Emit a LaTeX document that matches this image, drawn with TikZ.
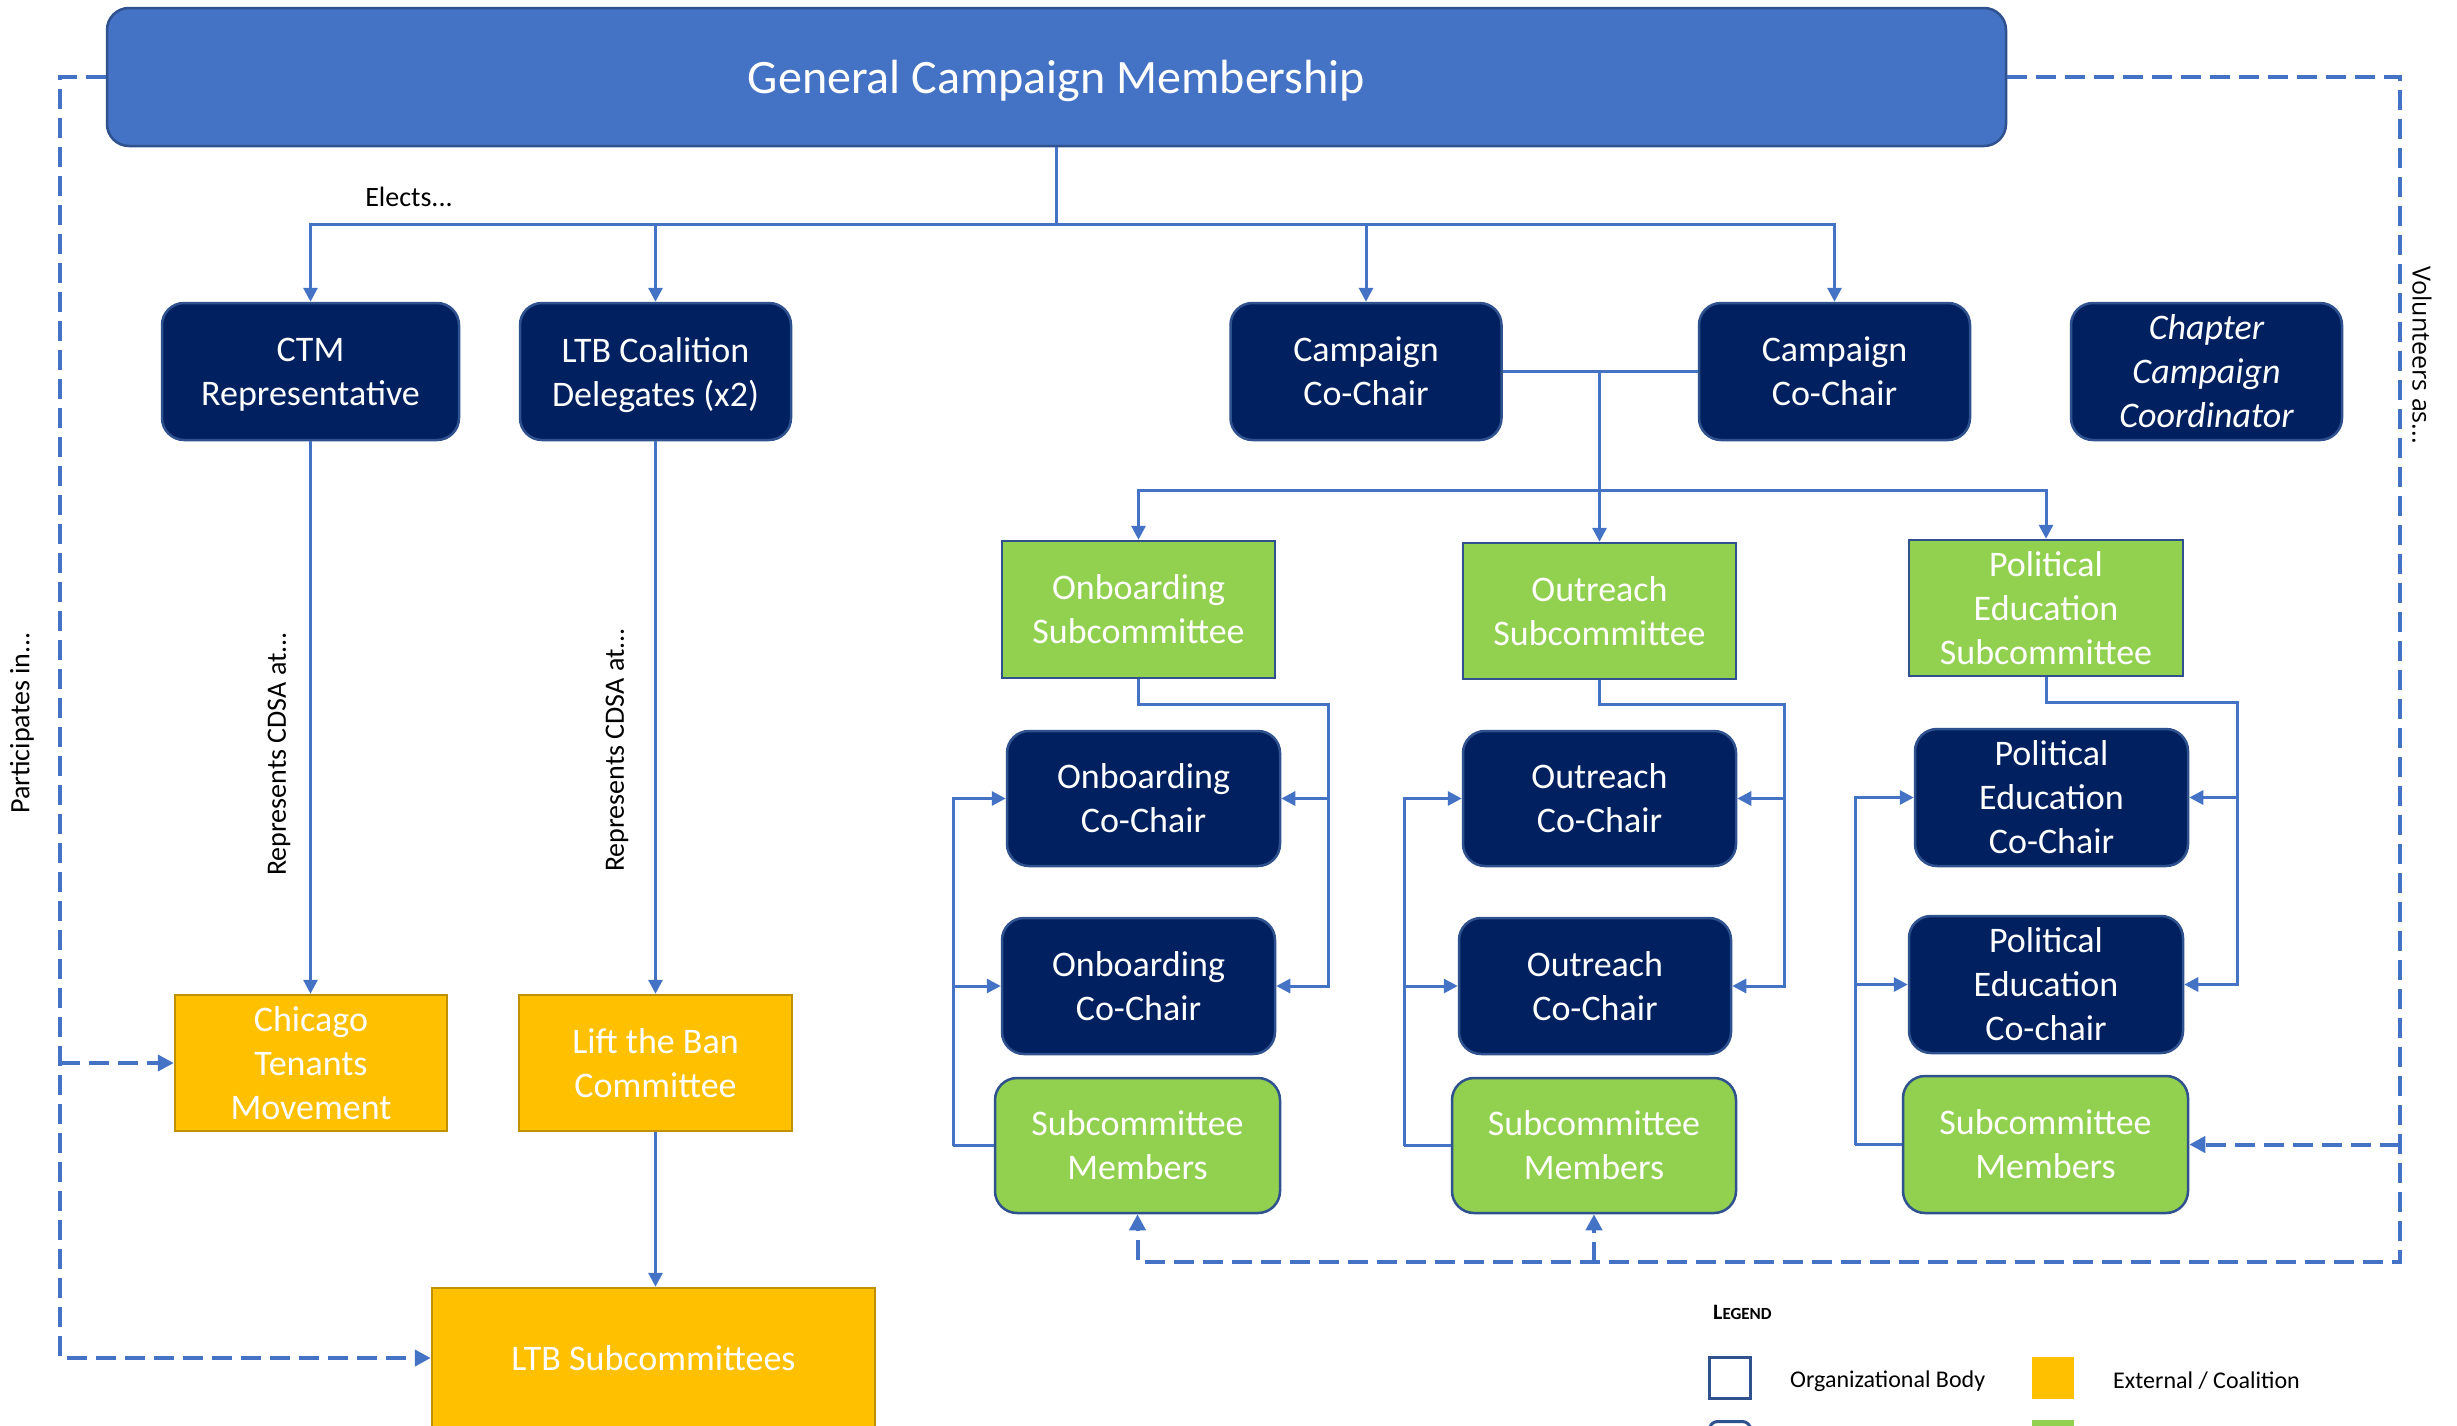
\documentclass[tikz,border=0pt]{standalone}
\usepackage{fontspec}
\setmainfont{Carlito}
\newfontfamily\volfont{Open Sans}
\usetikzlibrary{arrows.meta}
\definecolor{lineblue}{HTML}{4472C4}
\definecolor{bordblue}{HTML}{2F528F}
\definecolor{navy}{HTML}{002060}
\definecolor{grn}{HTML}{92D050}
\definecolor{ylw}{HTML}{FFC000}
\definecolor{ylwb}{HTML}{BF9000}
\newcommand\nodepth[1]{\raisebox{0pt}[\height][0pt]{#1}}
\begin{document}
\begin{tikzpicture}[x=1pt,y=-1pt,
  base/.style={inner sep=0pt, text=white, align=center, font=\fontsize{36}{44}\selectfont, line width=2.5pt},
  navybox/.style={base, draw=bordblue, fill=navy, rounded corners=22pt},
  greenhead/.style={base, draw=bordblue, fill=grn},
  greenmem/.style={base, draw=bordblue, fill=grn, rounded corners=22pt},
  ylwbox/.style={base, draw=ylwb, fill=ylw},
  conn/.style={draw=lineblue, line width=3pt},
  arr/.style={conn, -{Triangle[length=14pt,width=14pt]}},
  dsh/.style={draw=lineblue, line width=4pt, dash pattern=on 20pt off 9pt},
  dsharr/.style={dsh, -{Triangle[length=16pt,width=16pt]}},
  lbl/.style={font=\fontsize{28}{34}\selectfont, text=black, inner sep=0pt},
  sz/.style 2 args={minimum width=#1pt, minimum height=#2pt}
]
\useasboundingbox (0,0) rectangle (2457,1425);
\clip (0,0) rectangle (2457,1425);
\fill[white] (0,0) rectangle (2457,1425);

% top
\node[base, draw=bordblue, fill=lineblue, rounded corners=22pt, sz={1899}{138}, font=\fontsize{48}{56}\selectfont] (gcm) at (1056.5,77) {\nodepth{General Campaign Membership}};

% second row
\node[navybox, sz={297}{137}] (ctmrep) at (310.5,371.5) {CTM\\\nodepth{Representative}};
\node[navybox, sz={271}{137}] (ltbdel) at (655.5,371.5) {LTB Coalition\\\nodepth{Delegates (x2)}};
\node[navybox, sz={271}{137}] (cc1) at (1366,371.5) {Campaign\\Co-Chair};
\node[navybox, sz={271}{137}] (cc2) at (1834.5,371.5) {Campaign\\Co-Chair};
\node[navybox, sz={271}{137}, font=\fontsize{36}{44}\selectfont\itshape] (ccc) at (2206.5,371.5) {Chapter\\Campaign\\Coordinator};

% subcommittees
\node[greenhead, sz={273}{137}] (onbsub) at (1138.5,609.5) {Onboarding\\Subcommittee};
\node[greenhead, sz={273}{136}] (outsub) at (1599.5,611) {Outreach\\Subcommittee};
\node[greenhead, sz={274}{136}] (pesub) at (2046,608) {Political\\Education\\Subcommittee};

\node[navybox, sz={273}{135}] (oc1) at (1143.5,798.5) {Onboarding\\Co-Chair};
\node[navybox, sz={273}{136}] (oc2) at (1138.5,986) {Onboarding\\Co-Chair};
\node[greenmem, sz={285}{135}] (om) at (1137.5,1145.5) {Subcommittee\\Members};

\node[navybox, sz={273}{135}] (rc1) at (1599.5,798.5) {Outreach\\Co-Chair};
\node[navybox, sz={272}{136}] (rc2) at (1595,986) {Outreach\\Co-Chair};
\node[greenmem, sz={284}{135}] (rm) at (1594,1145.5) {Subcommittee\\Members};

\node[navybox, sz={273}{137}] (pc1) at (2051.5,797.5) {Political\\Education\\Co-Chair};
\node[navybox, sz={274}{137}] (pc2) at (2046,984.5) {Political\\Education\\Co-chair};
\node[greenmem, sz={285}{137}] (pm) at (2045.5,1144.5) {Subcommittee\\Members};

% external
\node[ylwbox, sz={272}{136}] (ctmv) at (311,1063) {Chicago\\Tenants\\Movement};
\node[ylwbox, sz={273}{136}] (ltbc) at (655.5,1063) {Lift the Ban\\Committee};
\node[ylwbox, sz={443}{140}] (ltbs) at (653.5,1358) {LTB Subcommittees};

% election bus
\coordinate (bus) at (1056.5,224);
\draw[conn] (gcm.south) -- (bus);
\draw[arr] (bus) -| (ctmrep.north);
\draw[arr] (bus) -| (ltbdel.north);
\draw[arr] (bus) -| (cc1.north);
\draw[arr] (bus) -| (cc2.north);
\node[lbl] (elects) at (409,197) {Elects...};

% representation
\draw[arr] (ctmrep.south) -- (ctmrep.south |- ctmv.north);
\draw[arr] (ltbdel.south) -- (ltbdel.south |- ltbc.north);
\draw[arr] (ltbc.south) -- (ltbc.south |- ltbs.north);
\node[lbl, rotate=90] (rep1) at (279,754) {Represents CDSA at...};
\node[lbl, rotate=90] (rep2) at (617,750) {Represents CDSA at...};

% co-chairs to subcommittees
\draw[conn] (cc1.east) -- (cc2.west);
\coordinate (ccmid) at (outsub.north |- cc1.east);
\draw[arr] (ccmid) -- (outsub.north);
\coordinate (bus2) at (1599.5,490);
\draw[arr] (bus2) -| (onbsub.north);
\draw[arr] (bus2) -| (pesub.north);

% onboarding
\coordinate (onbR) at (1328,704);
\draw[arr] (onbsub.south) |- (onbR) |- (oc1.east);
\draw[arr] (onbR) |- (oc2.east);
\coordinate (onbL) at (953,1145.5);
\draw[conn] (om.west) -- (onbL);
\draw[arr] (onbL) |- (oc1.west);
\draw[arr] (onbL) |- (oc2.west);

% outreach
\coordinate (outR) at (1784,704);
\draw[arr] (outsub.south) |- (outR) |- (rc1.east);
\draw[arr] (outR) |- (rc2.east);
\coordinate (outL) at (1404,1145.5);
\draw[conn] (rm.west) -- (outL);
\draw[arr] (outL) |- (rc1.west);
\draw[arr] (outL) |- (rc2.west);

% political education
\coordinate (peR) at (2237,702);
\draw[arr] (pesub.south) |- (peR) |- (pc1.east);
\draw[arr] (peR) |- (pc2.east);
\coordinate (peL) at (1855,1144.5);
\draw[conn] (pm.west) -- (peL);
\draw[arr] (peL) |- (pc1.west);
\draw[arr] (peL) |- (pc2.west);

% dashed: participates
\coordinate (dl1) at (60,77);
\draw[dsharr] (gcm.west) -- (dl1) |- (ltbs.west);
\draw[dsharr] (dl1 |- ctmv.west) -- (ctmv.west);
\node[lbl, rotate=90] (part) at (22,723) {Participates in...};

% dashed: volunteers
\coordinate (dr1) at (2400,77);
\coordinate (dr2) at (2400,1262);
\draw[dsharr] (gcm.east) -- (dr1) -- (dr2) -| (om.south);
\draw[dsharr] (rm.south |- dr2) -- (rm.south);
\draw[dsharr] (dr1 |- pm.east) -- (pm.east);
\node[lbl, rotate=-90, font=\volfont\fontsize{25}{30}\selectfont] (vol) at (2422,355) {Volunteers as...};

% legend
\node[lbl, anchor=west, font=\bfseries] (leg) at (1713,1312) {\fontsize{22}{26}\selectfont L\fontsize{17}{26}\selectfont EGEND};
\node[draw=bordblue, line width=3pt, fill=white, minimum width=41pt, minimum height=41pt, inner sep=0pt] (lgorg) at (1730,1377.5) {};
\node[lbl, anchor=west, font=\fontsize{24}{29}\selectfont] (lgorgt) at (1790,1381) {Organizational Body};
\node[fill=ylw, minimum width=42pt, minimum height=42pt, inner sep=0pt] (lgext) at (2053,1378) {};
\node[lbl, anchor=west, font=\fontsize{24}{29}\selectfont] (lgextt) at (2113,1381) {External / Coalition};
\node[draw=bordblue, line width=3pt, fill=white, rounded corners=8pt, minimum width=41pt, minimum height=41pt, inner sep=0pt] (lgrole) at (1730,1442) {};
\node[fill=grn, minimum width=42pt, minimum height=42pt, inner sep=0pt] (lgsub) at (2053,1441) {};
\end{tikzpicture}
\end{document}
